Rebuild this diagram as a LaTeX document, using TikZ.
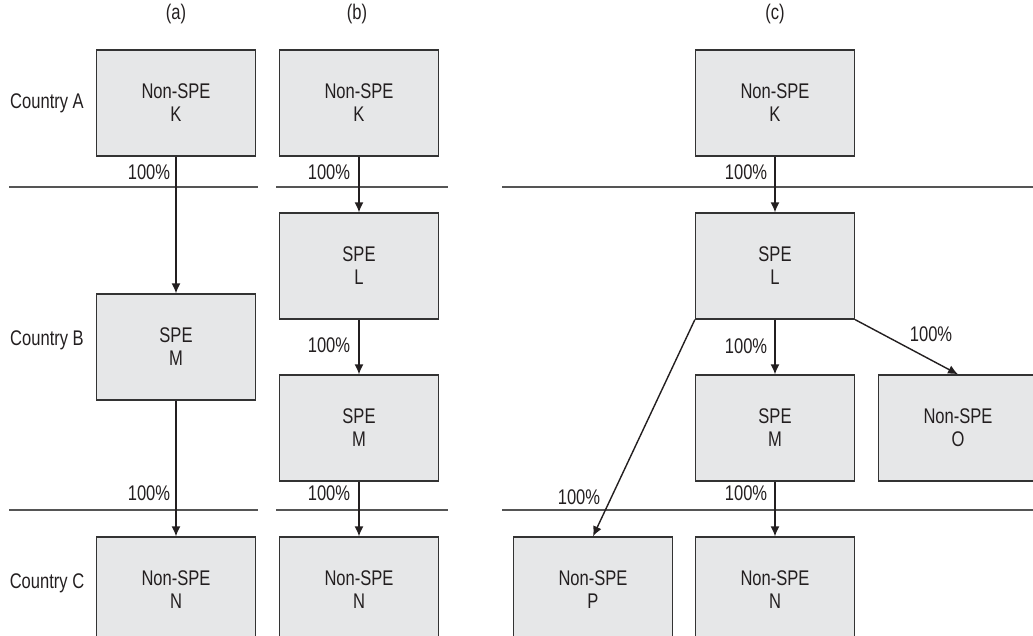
\documentclass[tikz,border=0pt]{standalone}
\usepackage{fontspec}
\setmainfont{Liberation Sans}[FakeStretch=0.78]
\usetikzlibrary{arrows.meta}

\definecolor{boxfill}{HTML}{E6E7E8}
\definecolor{boxline}{HTML}{333333}
\definecolor{rulegray}{HTML}{555555}
\definecolor{ink}{HTML}{231F20}

\tikzset{
  box/.style={draw=boxline, fill=boxfill, line width=0.65pt, minimum width=79.5pt,
    minimum height=53pt, align=center, inner sep=0pt, text=ink,
    font={\fontsize{10.6}{11.5}\selectfont}},
  pct/.style={inner sep=0pt, text=ink, font={\fontsize{10.6}{11.5}\selectfont}},
  arr/.style={-{Latex[length=5pt,width=4.5pt]}, line width=0.7pt, draw=ink},
  border/.style={draw=rulegray, line width=0.65pt}
}

\begin{document}
\begin{tikzpicture}[x=0.5pt,y=-0.5pt]
    \useasboundingbox (0,0) rectangle (1033,636);
    \clip (0,0) rectangle (1033,636);

    % column and country labels
    \node[pct] (ta) at (176,14) {(a)};
    \node[pct] (tb) at (357,14) {(b)};
    \node[pct] (tc) at (775,14) {(c)};
    \node[pct] (cA) at (47,103) {Country A};
    \node[pct] (cB) at (47,340) {Country B};
    \node[pct] (cC) at (47,583) {Country C};

    % borders between countries
    \coordinate (l1a) at (9,187);   \coordinate (r1a) at (258,187);
    \coordinate (l1b) at (276,187); \coordinate (r1b) at (448,187);
    \coordinate (l1c) at (502,187); \coordinate (r1c) at (1033,187);
    \coordinate (l2a) at (9,510);   \coordinate (r2a) at (258,510);
    \coordinate (l2b) at (276,510); \coordinate (r2b) at (448,510);
    \coordinate (l2c) at (502,510); \coordinate (r2c) at (1033,510);
    \draw[border] (l1a) -- (r1a);
    \draw[border] (l1b) -- (r1b);
    \draw[border] (l1c) -- (r1c);
    \draw[border] (l2a) -- (r2a);
    \draw[border] (l2b) -- (r2b);
    \draw[border] (l2c) -- (r2c);

    % (a)
    \node[box] (aK) at (176,103) {Non-SPE\\K};
    \node[box] (aM) at (176,347) {SPE\\M};
    \node[box] (aN) at (176,590) {Non-SPE\\N};
    \draw[arr] (aK) -- (aM);
    \draw[arr] (aM) -- (aN);
    \node[pct] (pa1) at (149,172) {100\%};
    \node[pct] (pa2) at (149,493) {100\%};

    % (b)
    \node[box] (bK) at (359,103) {Non-SPE\\K};
    \node[box] (bL) at (359,266) {SPE\\L};
    \node[box] (bM) at (359,428) {SPE\\M};
    \node[box] (bN) at (359,590) {Non-SPE\\N};
    \draw[arr] (bK) -- (bL);
    \draw[arr] (bL) -- (bM);
    \draw[arr] (bM) -- (bN);
    \node[pct] (pb1) at (329,172) {100\%};
    \node[pct] (pb2) at (329,345) {100\%};
    \node[pct] (pb3) at (329,493) {100\%};

    % (c)
    \node[box] (cK) at (775,103) {Non-SPE\\K};
    \node[box] (cL) at (775,266) {SPE\\L};
    \node[box] (cM) at (775,428) {SPE\\M};
    \node[box] (cO) at (958,428) {Non-SPE\\O};
    \node[box] (cP) at (593,590) {Non-SPE\\P};
    \node[box] (cN) at (775,590) {Non-SPE\\N};
    \draw[arr] (cK) -- (cL);
    \draw[arr] (cL) -- (cM);
    \draw[arr] (cM) -- (cN);
    \draw[arr] (cL.south west) -- (cP.north);
    \draw[arr] (cL.south east) -- (cO.north);
    \node[pct] (pc1) at (746,172) {100\%};
    \node[pct] (pc2) at (746,346) {100\%};
    \node[pct] (pc3) at (746,493) {100\%};
    \node[pct] (pc4) at (579,497) {100\%};
    \node[pct] (pc5) at (931,334) {100\%};
\end{tikzpicture}
\end{document}
